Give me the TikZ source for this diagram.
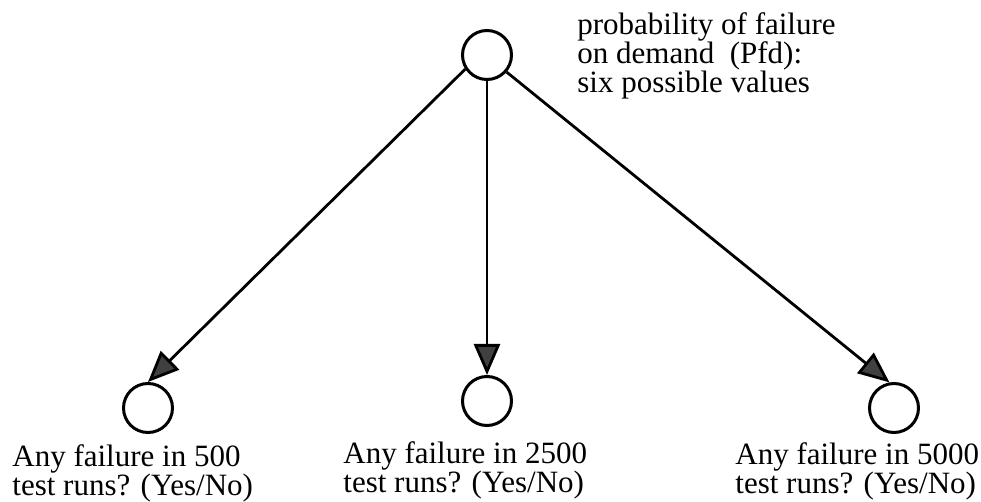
\documentclass[tikz,border=0pt]{standalone}
\usepackage{fontspec}
\setmainfont{Liberation Serif}
\usepackage{tikz}
\usetikzlibrary{positioning,shapes,arrows.meta}
\tikzstyle{chance} = [circle, draw, line width=1.5pt, inner sep=0pt, minimum size=24.5pt]
\tikzstyle{caption} = [anchor=north west, align=left, inner sep=0pt, font=\fontsize{15.5}{14.6}\selectfont]
\tikzstyle{link} = [-{Triangle[length=15.5pt, width=13pt, fill=black!75]}, line width=1.4pt]

\begin{document}
\begin{tikzpicture}[x=0.5pt, y=-0.5pt]
\useasboundingbox (0,0) rectangle (981,502);
\node[chance] (pfd) at (487,55) {};
\node[chance] (t500) at (148,408) {};
\node[chance] (t2500) at (487,401) {};
\node[chance] (t5000) at (894,408) {};
\node[caption] (pfdtxt) at (577,12) {probability of failure\\on demand \ (Pfd):\\six possible values};
\node[caption] (t500txt) at (12,444) {Any failure in 500\\test runs? (Yes/No)};
\node[caption] (t2500txt) at (343,441) {Any failure in 2500\\test runs? (Yes/No)};
\node[caption] (t5000txt) at (735,442) {Any failure in 5000\\test runs? (Yes/No)};
\draw[link] (pfd.213) -- (t500.north);
\draw[link] (pfd) -- (t2500);
\draw[link] (pfd.-41) -- (t5000.100);
\end{tikzpicture}
\end{document}
